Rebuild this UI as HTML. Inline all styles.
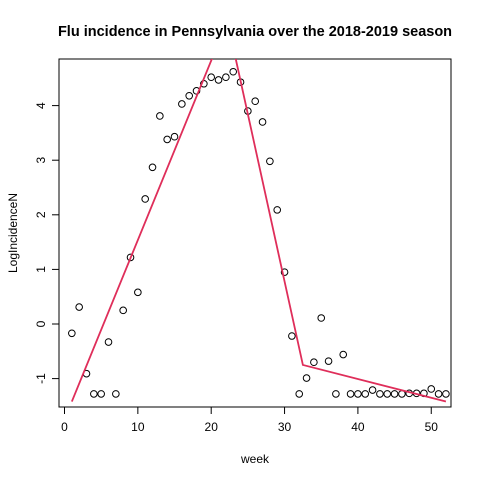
<!DOCTYPE html>
<html><head><meta charset="utf-8"><style>
body{margin:0;background:#fff}
svg{display:block;font-family:"Liberation Sans",Arial,sans-serif}
</style></head><body>
<svg id="chart" width="480" height="480">
<text x="255" y="36" text-anchor="middle" font-weight="bold" font-size="14.5">Flu incidence in Pennsylvania over the 2018-2019 season</text>
<text x="255" y="463" text-anchor="middle" font-size="12">week</text>
<text transform="translate(17,233) rotate(-90)" text-anchor="middle" font-size="12">LogIncidenceN</text>
<rect x="59" y="59" width="392" height="348" fill="none" stroke="#000"/>
<defs><clipPath id="clip"><rect x="59" y="59" width="392" height="348"/></clipPath></defs>
<g id="xaxis"></g><g id="yaxis"></g><g id="pts"></g><g id="fit" clip-path="url(#clip)"></g>
</svg>
<script>
const weeks=[];for(let i=1;i<=52;i++)weeks.push(i);
const logInc=[-0.17,0.31,-0.91,-1.28,-1.28,-0.33,-1.28,0.25,1.22,0.58,2.29,2.87,3.81,3.38,3.43,4.03,4.18,4.27,4.40,4.52,4.47,4.52,4.62,4.43,3.90,4.08,3.70,2.98,2.09,0.95,-0.22,-1.28,-0.99,-0.70,0.11,-0.68,-1.28,-0.56,-1.28,-1.28,-1.28,-1.21,-1.28,-1.28,-1.28,-1.28,-1.27,-1.27,-1.27,-1.19,-1.28,-1.28];
const fitX=[1,22.21,32.5,52];
const fitY=[-1.42,5.55,-0.75,-1.42];
const xTicks=[0,10,20,30,40,50];
const yTicks=[-1,0,1,2,3,4];
const NS="http://www.w3.org/2000/svg";
function sx(v){return 64.5+v*7.335;}
function sy(v){return 324-v*54.6;}
function mk(t,a,p){const e=document.createElementNS(NS,t);for(const k in a)e.setAttribute(k,a[k]);p.appendChild(e);return e;}
const xa=document.getElementById('xaxis');
mk('line',{x1:sx(0),x2:sx(50),y1:407,y2:407,stroke:'#000'},xa);
xTicks.forEach(t=>{const l=mk('line',{x1:sx(t),x2:sx(t),y1:407,y2:414,stroke:'#000'},xa);


const tx=mk('text',{x:sx(t),y:431,'text-anchor':'middle','font-size':12},xa);tx.textContent=t;

});
const ya=document.getElementById('yaxis');
yTicks.forEach(t=>{const l=mk('line',{x1:52,x2:59,y1:sy(t),y2:sy(t),stroke:'#000'},ya);


const tx=mk('text',{transform:`translate(45,${sy(t)}) rotate(-90)`,'text-anchor':'middle','font-size':12},ya);tx.textContent=t;

});
const pg=document.getElementById('pts');
weeks.forEach((w,i)=>{const c=mk('circle',{cx:sx(w),cy:sy(logInc[i]),r:3.3,fill:'none',stroke:'#000','stroke-width':1},pg);

});
const fg=document.getElementById('fit');
const pl=mk('polyline',{points:fitX.map((x,i)=>sx(x)+','+sy(fitY[i])).join(' '),fill:'none',stroke:'#DF2E5A','stroke-width':1.8},fg);


</script>
</body></html>
